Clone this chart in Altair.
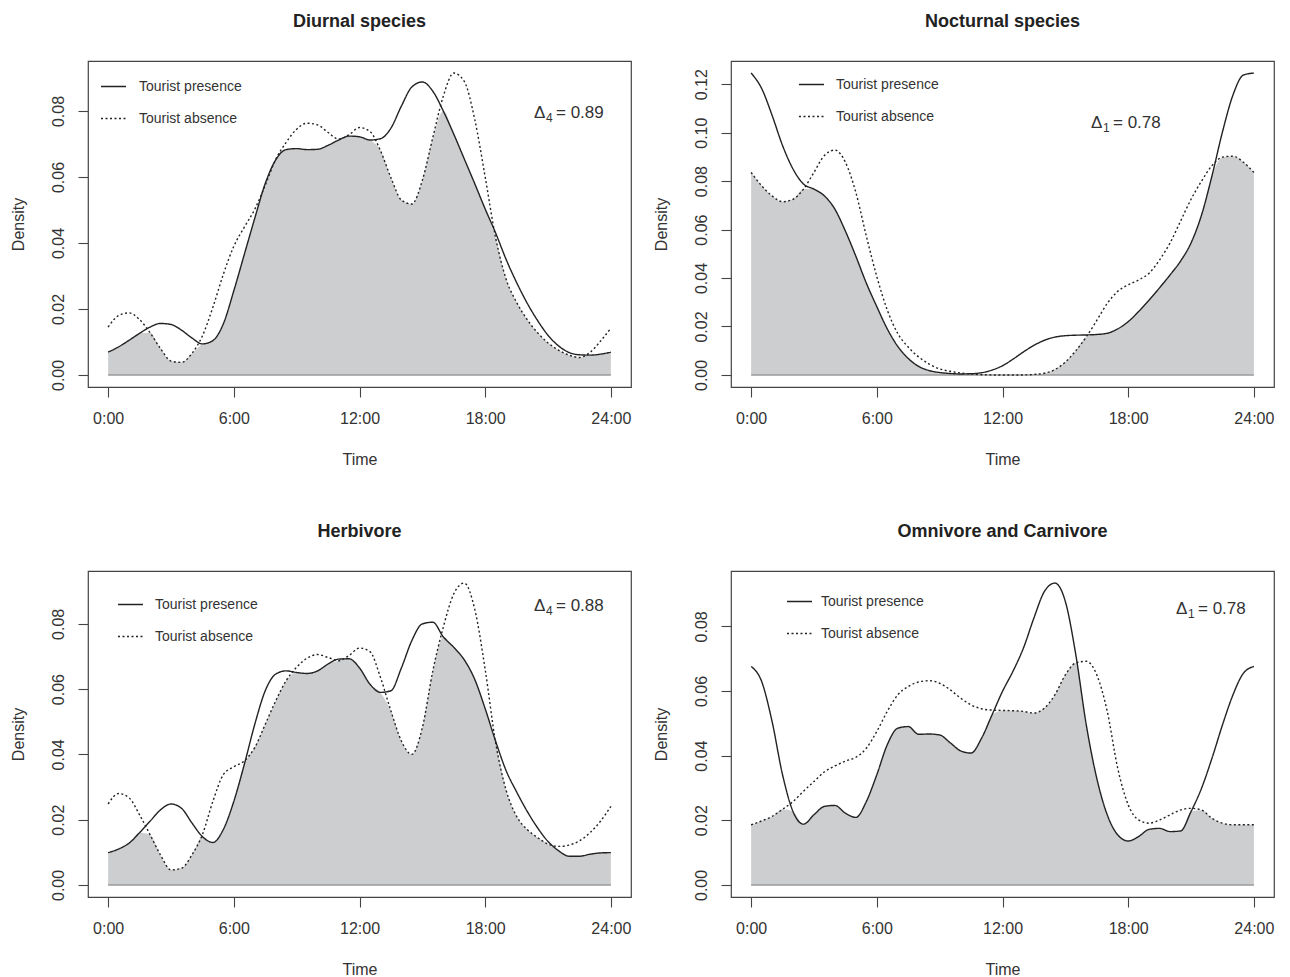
import altair as alt
import pandas as pd
import numpy as np

# ---------------- data ----------------
hours = [i * 0.5 for i in range(49)]  # 0:00 .. 24:00 every half hour

diurnal_presence = [
    0.0069, 0.0085, 0.0105, 0.0126, 0.0145, 0.0156, 0.0153, 0.0136, 0.0112, 0.0094,
    0.0104, 0.0155, 0.0255, 0.0365, 0.0475, 0.0580, 0.0652, 0.0683, 0.0686, 0.0683,
    0.0684, 0.0696, 0.0712, 0.0724, 0.0722, 0.0712, 0.0716, 0.0748, 0.0815, 0.0873,
    0.0888, 0.0860, 0.0800, 0.0730, 0.0655, 0.0580, 0.0503, 0.0430, 0.0350, 0.0280,
    0.0218, 0.0165, 0.0120, 0.0088, 0.0068, 0.0061, 0.0060, 0.0063, 0.0069]
diurnal_absence = [
    0.0145, 0.0180, 0.0188, 0.0168, 0.0128, 0.0080, 0.0042, 0.0038, 0.0065, 0.0118,
    0.0205, 0.0305, 0.0390, 0.0448, 0.0502, 0.0575, 0.0653, 0.0705, 0.0745, 0.0763,
    0.0758, 0.0735, 0.0715, 0.0728, 0.0750, 0.0738, 0.0680, 0.0598, 0.0530, 0.0518,
    0.0590, 0.0720, 0.0845, 0.0915, 0.0890, 0.0775, 0.0600, 0.0415, 0.0290, 0.0220,
    0.0168, 0.0128, 0.0097, 0.0075, 0.0060, 0.0053, 0.0068, 0.0102, 0.0142]

nocturnal_presence = [
    0.1246, 0.1183, 0.1072, 0.0947, 0.0850, 0.0788, 0.0767, 0.0739, 0.0684, 0.0594,
    0.0490, 0.0379, 0.0282, 0.0190, 0.0118, 0.0068, 0.0035, 0.0018, 0.0010, 0.0006,
    0.0004, 0.0005, 0.0009, 0.0020, 0.0038, 0.0065, 0.0095, 0.0122, 0.0143, 0.0156,
    0.0162, 0.0164, 0.0165, 0.0167, 0.0172, 0.0190, 0.0220, 0.0262, 0.0309, 0.0360,
    0.0413, 0.0470, 0.0545, 0.0660, 0.0822, 0.1003, 0.1155, 0.1238, 0.1246]
nocturnal_absence = [
    0.0836, 0.0781, 0.0739, 0.0715, 0.0725, 0.0767, 0.0836, 0.0906, 0.0928, 0.0878,
    0.0753, 0.0573, 0.0406, 0.0268, 0.0171, 0.0115, 0.0074, 0.0045, 0.0025, 0.0015,
    0.0008, 0.0004, 0.0001, 0.0000, 0.0000, 0.0000, 0.0000, 0.0002, 0.0007, 0.0022,
    0.0053, 0.0100, 0.0157, 0.0225, 0.0295, 0.0345, 0.0372, 0.0392, 0.0420, 0.0475,
    0.0545, 0.0635, 0.0725, 0.0800, 0.0864, 0.0899, 0.0903, 0.0878, 0.0836]

herbivore_presence = [
    0.0099, 0.0110, 0.0128, 0.0160, 0.0195, 0.0230, 0.0248, 0.0235, 0.0190, 0.0148,
    0.0130, 0.0170, 0.0256, 0.0369, 0.0492, 0.0595, 0.0646, 0.0656, 0.0651, 0.0648,
    0.0656, 0.0677, 0.0692, 0.0693, 0.0665, 0.0615, 0.0590, 0.0595, 0.0665, 0.0749,
    0.0800, 0.0805, 0.0760, 0.0728, 0.0690, 0.0630, 0.0540, 0.0440, 0.0350, 0.0285,
    0.0226, 0.0175, 0.0133, 0.0105, 0.0088, 0.0088, 0.0094, 0.0098, 0.0099]
herbivore_absence = [
    0.0248, 0.0280, 0.0267, 0.0215, 0.0154, 0.0092, 0.0046, 0.0051, 0.0092, 0.0154,
    0.0256, 0.0338, 0.0362, 0.0380, 0.0421, 0.0492, 0.0564, 0.0626, 0.0667, 0.0695,
    0.0706, 0.0697, 0.0687, 0.0703, 0.0726, 0.0715, 0.0636, 0.0533, 0.0441, 0.0400,
    0.0482, 0.0656, 0.0790, 0.0892, 0.0925, 0.0845, 0.0660, 0.0435, 0.0290, 0.0210,
    0.0170, 0.0145, 0.0125, 0.0118, 0.0122, 0.0135, 0.0160, 0.0195, 0.0241]

omnivore_presence = [
    0.0676, 0.0630, 0.0506, 0.0341, 0.0227, 0.0188, 0.0217, 0.0243, 0.0246, 0.0222,
    0.0209, 0.0258, 0.0341, 0.0434, 0.0485, 0.0490, 0.0466, 0.0467, 0.0464, 0.0440,
    0.0415, 0.0408, 0.0454, 0.0526, 0.0599, 0.0661, 0.0733, 0.0826, 0.0908, 0.0934,
    0.0877, 0.0712, 0.0495, 0.0330, 0.0217, 0.0155, 0.0136, 0.0150, 0.0172, 0.0175,
    0.0165, 0.0167, 0.0227, 0.0299, 0.0392, 0.0495, 0.0588, 0.0655, 0.0676]
omnivore_absence = [
    0.0186, 0.0198, 0.0212, 0.0234, 0.0258, 0.0290, 0.0320, 0.0350, 0.0368, 0.0383,
    0.0395, 0.0423, 0.0475, 0.0537, 0.0588, 0.0614, 0.0628, 0.0632, 0.0624, 0.0604,
    0.0578, 0.0557, 0.0545, 0.0541, 0.0540, 0.0539, 0.0537, 0.0532, 0.0547, 0.0588,
    0.0650, 0.0687, 0.0692, 0.0650, 0.0537, 0.0361, 0.0248, 0.0201, 0.0191, 0.0201,
    0.0217, 0.0232, 0.0237, 0.0232, 0.0206, 0.0191, 0.0186, 0.0186, 0.0186]

titles = ["Diurnal species", "Nocturnal species", "Herbivore", "Omnivore and Carnivore"]
series_names = ["Tourist presence", "Tourist absence"]
delta_sub = ["4", "1", "4", "1"]
delta_val = ["= 0.89", "= 0.78", "= 0.88", "= 0.78"]
x_ticks = [0, 6, 12, 18, 24]
y_ticks = [
    [0.0, 0.02, 0.04, 0.06, 0.08],
    [0.0, 0.02, 0.04, 0.06, 0.08, 0.10, 0.12],
    [0.0, 0.02, 0.04, 0.06, 0.08],
    [0.0, 0.02, 0.04, 0.06, 0.08],
]
presence = [diurnal_presence, nocturnal_presence, herbivore_presence, omnivore_presence]
absence = [diurnal_absence, nocturnal_absence, herbivore_absence, omnivore_absence]

# ---------------- layout / style ----------------
FONT = "Liberation Sans"
W, H = 543, 326
legend_pos = [(12, 12, 12), (67, 10, 11), (29, 20, 11), (55, 17, 8)]  # x, y, labelOffset
delta_pos = [(444, 52), (358, 62), (444, 35), (443, 38)]


def panel(i):
    pres = presence[i]
    absn = absence[i]
    df = pd.DataFrame({
        "hour": hours + hours,
        "density": pres + absn,
        "series": [series_names[0]] * len(hours) + [series_names[1]] * len(hours),
    })
    ov = pd.DataFrame({"hour": hours, "overlap": np.minimum(pres, absn)})
    ymax = max(max(pres), max(absn))
    xs = alt.Scale(domain=[-0.96, 24.96], nice=False, zero=False)
    ys = alt.Scale(domain=[-0.04 * ymax, 1.04 * ymax], nice=False, zero=False)
    xaxis = alt.Axis(values=x_ticks, labelExpr="datum.value + ':00'", title="Time",
                     labelPadding=13, titlePadding=25)
    yaxis = alt.Axis(values=y_ticks[i], format=".2f", title="Density", labelAngle=270,
                     labelAlign="center", labelBaseline="bottom", labelPadding=12,
                     titlePadding=24)

    area = alt.Chart(ov).mark_area(color="#cdced0", interpolate="monotone").encode(
        x=alt.X("hour:Q", scale=xs, axis=xaxis),
        y=alt.Y("overlap:Q", scale=ys, axis=yaxis),
        y2=alt.datum(0),
    )
    base = alt.Chart(ov).mark_rule(color="#9a9a9a", strokeWidth=1.5).encode(
        x=alt.X("min(hour):Q", scale=xs),
        x2="max(hour):Q",
        y=alt.datum(0),
    )
    lx, ly, lo = legend_pos[i]
    lines = alt.Chart(df).mark_line(interpolate="monotone", color="#222222",
                                    strokeWidth=1.4).encode(
        x=alt.X("hour:Q", scale=xs),
        y=alt.Y("density:Q", scale=ys),
        strokeDash=alt.StrokeDash(
            "series:N",
            scale=alt.Scale(domain=series_names, range=[[1, 0], [2, 2.5]]),
            legend=alt.Legend(title=None, orient="none", legendX=lx, legendY=ly,
                              symbolType="stroke", symbolSize=625,
                              symbolStrokeWidth=1.4, symbolStrokeColor="#222222",
                              labelFontSize=14, labelFont=FONT, labelColor="#333333",
                              labelOffset=lo, rowPadding=11, padding=0),
        ),
    )
    dx, dy = delta_pos[i]
    dd = pd.DataFrame({"sym": ["Δ"], "sub": [delta_sub[i]], "val": [delta_val[i]]})
    t1 = alt.Chart(dd).mark_text(align="left", baseline="middle", fontSize=17, font=FONT,
                                 color="#333333").encode(
        x=alt.value(dx + 2), y=alt.value(dy), text="sym:N")
    t2 = alt.Chart(dd).mark_text(align="left", baseline="middle", fontSize=12, font=FONT,
                                 color="#333333").encode(
        x=alt.value(dx + 14), y=alt.value(dy + 5), text="sub:N")
    t3 = alt.Chart(dd).mark_text(align="left", baseline="middle", fontSize=17, font=FONT,
                                 color="#333333").encode(
        x=alt.value(dx + 24), y=alt.value(dy), text="val:N")

    return alt.layer(area, base, lines, t1, t2, t3).properties(
        width=W, height=H,
        title=alt.TitleParams(titles[i], fontSize=18, fontWeight="bold", font=FONT,
                              color="#222222", anchor="middle", offset=30),
    )


chart = alt.concat(
    panel(0), panel(1), panel(2), panel(3),
    columns=2, spacing={"row": 184, "column": 100}, bounds="flush",
).resolve_scale(strokeDash="independent").resolve_legend(
    strokeDash="independent").properties(
    padding={"left": 1, "top": 4, "right": 2, "bottom": 0}
).configure_view(stroke="#444444", strokeWidth=1.2).configure_axis(
    domain=False, grid=False, tickColor="#444444", tickSize=10, tickWidth=1.1,
    labelFont=FONT, labelFontSize=16, labelColor="#333333",
    titleFont=FONT, titleFontSize=16, titleFontWeight="normal", titleColor="#333333",
)

chart.save("out.html", embed_options={"renderer": "svg", "actions": False})
